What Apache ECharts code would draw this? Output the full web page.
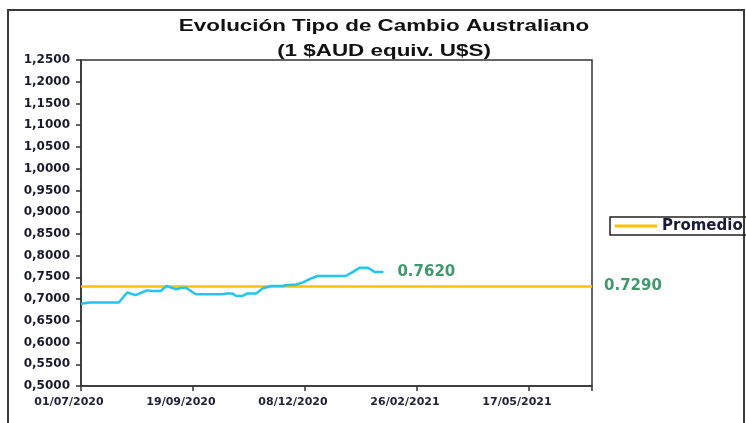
<!DOCTYPE html>
<html>
<head>
<meta charset="utf-8">
<script src="https://cdn.jsdelivr.net/npm/echarts@6/dist/echarts.min.js"></script>
<style>
html,body{margin:0;padding:0;background:#fff;}
#chart{width:746px;height:423px;}
</style>
</head>
<body>
<div id="chart"></div>
<script>
// ---- data ----
const titleLine1 = 'Evolución Tipo de Cambio Australiano';
const titleLine2 = '(1 $AUD equiv. U$S)';
const axisStartDate = '2020-07-01';
const axisEndDate = '2021-07-01';
const tickStepDays = 80;
const yMin = 0.5, yMax = 1.25, yStep = 0.05;
const fxDates = ['2020-07-01','2020-07-07','2020-07-28','2020-08-03','2020-08-09','2020-08-17','2020-08-22','2020-08-27','2020-08-31','2020-09-07','2020-09-11','2020-09-14','2020-09-21','2020-10-10','2020-10-13','2020-10-17','2020-10-20','2020-10-24','2020-10-28','2020-11-03','2020-11-08','2020-11-14','2020-11-22','2020-11-24','2020-12-02','2020-12-07','2020-12-12','2020-12-17','2021-01-06','2021-01-11','2021-01-16','2021-01-22','2021-01-27','2021-02-02'];
const fxValues = [0.689,0.692,0.692,0.715,0.709,0.720,0.7185,0.7185,0.730,0.7225,0.726,0.726,0.711,0.711,0.713,0.713,0.707,0.707,0.713,0.713,0.725,0.730,0.730,0.7317,0.7335,0.739,0.747,0.753,0.753,0.762,0.772,0.772,0.762,0.762];
const promedioName = 'Promedio';
const promedioValue = 0.7290;

// ---- helpers ----
function utc(s){const p=s.split('-').map(Number);return Date.UTC(p[0],p[1]-1,p[2]);}
const DAY = 86400000;
const t0 = utc(axisStartDate);
function dayOf(s){return Math.round((utc(s)-t0)/DAY);}
const axisMaxDay = dayOf(axisEndDate);
function fmtDay(v){
  const d = new Date(t0 + v*DAY);
  const dd = String(d.getUTCDate()).padStart(2,'0');
  const mm = String(d.getUTCMonth()+1).padStart(2,'0');
  return dd+'/'+mm+'/'+d.getUTCFullYear();
}
const fxData = fxDates.map((d,i)=>[dayOf(d), fxValues[i]]);
const promData = [[0, promedioValue],[axisMaxDay, promedioValue]];

const chart = echarts.init(document.getElementById('chart'), null, {renderer:'canvas'});
const labelFont = 'DejaVu Sans';
chart.setOption({
  animation:false,
  backgroundColor:'#ffffff',
  graphic:[
    {type:'rect', shape:{x:8,y:10,width:736,height:430}, style:{fill:'none', stroke:'#3a3a3a', lineWidth:2}, z:-1},
    {type:'text', x:384, y:27, scaleX:1.4, z:10,
      style:{text:titleLine1, fill:'#111', font:'bold 16px "Liberation Sans", Arial, sans-serif', align:'center', verticalAlign:'middle', textAlign:'center', textVerticalAlign:'middle'}},
    {type:'text', x:384, y:52, scaleX:1.4, z:10,
      style:{text:titleLine2, fill:'#111', font:'bold 16px "Liberation Sans", Arial, sans-serif', align:'center', verticalAlign:'middle', textAlign:'center', textVerticalAlign:'middle'}}
  ],
  legend:{
    left:610, top:217, data:[promedioName],
    icon:'rect', itemWidth:42, itemHeight:3, itemGap:5,
    padding:[1,10,1,5],
    borderColor:'#222', borderWidth:1.5,
    textStyle:{fontFamily:labelFont, fontWeight:'bold', fontSize:15, color:'#1a1a3a', lineHeight:16}
  },
  grid:{left:81, right:154, top:60, bottom:37, show:true, borderColor:'#333', borderWidth:1.5, backgroundColor:'transparent'},
  xAxis:{
    type:'value', min:0, max:axisMaxDay, interval:tickStepDays,
    axisLine:{lineStyle:{color:'#333', width:1.5}},
    axisTick:{show:true, length:5, lineStyle:{color:'#333', width:1.5}},
    splitLine:{show:false},
    axisLabel:{
      margin:11, fontFamily:labelFont, fontWeight:'bold', fontSize:11, color:'#22223a',
      padding:[0,24,0,0],
      formatter:function(v){return (v % tickStepDays === 0 && v < axisMaxDay) ? fmtDay(v) : '';}
    }
  },
  yAxis:{
    type:'value', min:yMin, max:yMax, interval:yStep,
    axisLine:{show:true, lineStyle:{color:'#333', width:1.5}},
    axisTick:{show:true, length:5, lineStyle:{color:'#333', width:1.5}},
    splitLine:{show:false},
    axisLabel:{
      margin:11, fontFamily:labelFont, fontWeight:'bold', fontSize:12, color:'#1a1a2e',
      formatter:function(v){return v.toFixed(4).replace('.', ',');}
    }
  },
  series:[
    {
      name:'AUD', type:'line', data:fxData, symbol:'none', z:3,
      lineStyle:{color:'#1ec6f2', width:2.5}, itemStyle:{color:'#1ec6f2'},
      endLabel:{show:true, distance:14, fontFamily:labelFont, fontWeight:'bold', fontSize:15, color:'#3f9a6b',
        formatter:function(p){return p.value[1].toFixed(4);}}
    },
    {
      name:promedioName, type:'line', data:promData, symbol:'none', z:2,
      lineStyle:{color:'#ffc000', width:2.5}, itemStyle:{color:'#ffc000'},
      endLabel:{show:true, distance:12, fontFamily:labelFont, fontWeight:'bold', fontSize:15, color:'#3f9a6b',
        formatter:function(p){return p.value[1].toFixed(4);}}
    }
  ]
});
</script>
</body>
</html>
